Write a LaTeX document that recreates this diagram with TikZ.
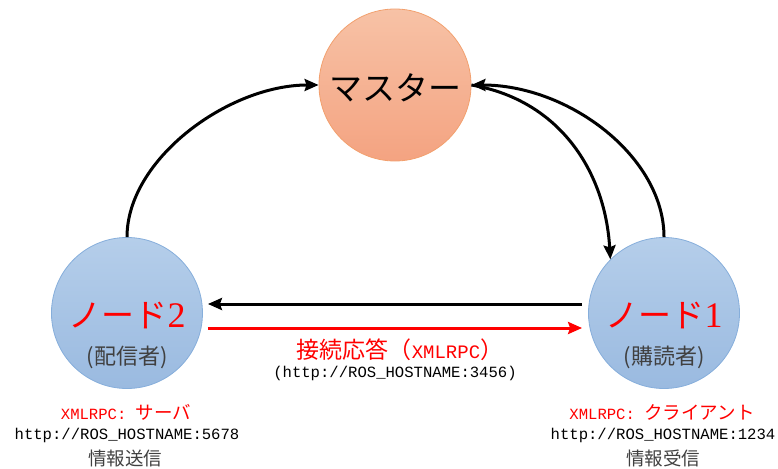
\documentclass[tikz,border=0pt]{standalone}
\usepackage{fontspec}
\setmainfont{Liberation Serif}
\newfontfamily\jpf{Noto Sans CJK JP}
\newfontfamily\monof{Liberation Mono}
\usetikzlibrary{arrows.meta,calc}
\definecolor{mtop}{HTML}{F7C2A6}
\definecolor{mbot}{HTML}{F4A381}
\definecolor{mdraw}{HTML}{F2A06E}
\definecolor{ntop}{HTML}{B5CEEA}
\definecolor{nbot}{HTML}{9ABAE0}
\definecolor{ndraw}{HTML}{86AEDB}
\definecolor{txtgray}{HTML}{404040}
\newcommand\jpsz[1]{\jpf\fontsize{#1}{#1}\selectfont}
\newcommand\mosz[1]{\monof\fontsize{#1}{#1}\selectfont}
\newcommand\rmsz[1]{\rmfamily\fontsize{#1}{#1}\selectfont}
\begin{document}
\begin{tikzpicture}[x=1pt,y=-1pt,
  master/.style={circle,minimum size=152pt,inner sep=0pt,draw=mdraw,line width=0.8pt,top color=mtop,bottom color=mbot},
  peer/.style={circle,minimum size=151pt,inner sep=0pt,draw=ndraw,line width=0.8pt,top color=ntop,bottom color=nbot},
  arr/.style={line width=3pt,-{Stealth[length=14pt,width=12pt,inset=2pt]}},
  redarr/.style={arr,red},
  txt/.style={inner sep=0pt,anchor=center},
  peername/.style={txt,red},
  peerrole/.style={txt,text=txtgray,font=\jpsz{22}},
  infored/.style={txt,red},
  infourl/.style={txt,font=\mosz{15.6}},
  infojp/.style={txt,text=txtgray,font=\jpsz{18.5}}
]
\useasboundingbox (0,0) rectangle (778,468);

\node[master] (m) at (395,85) {};
\node[peer] (n2) at (127,313) {};
\node[peer] (n1) at (664,313) {};

\node[txt,font=\jpsz{33}] (mt) at (395,88) {マスター};

\node[peername] (n2t) at ($(n2)+(0,3)$) {{\jpsz{33}ノード}{\rmsz{36}2}};
\node[peerrole] (n2r) at ($(n2)+(0,44)$) {(配信者)};
\node[peername] (n1t) at ($(n1)+(0,3)$) {{\jpsz{33}ノード}{\rmsz{36}1}};
\node[peerrole] (n1r) at ($(n1)+(0,44)$) {(購読者)};

% curved connectors
\draw[arr] (n2.north) .. controls +(0,-78) and +(-90,0) .. (m.west);
\draw[arr] (n1.north) .. controls +(0,-80) and +(98,0) .. (m.east);
\draw[arr] (m.east) .. controls +(88,15) and +(-5,-88) .. (n1.135);

% horizontal connectors
\coordinate (bs) at ($(n1.west)+(-6,-9)$);
\coordinate (be) at ($(n2.east)+(5,-9)$);
\draw[arr] (bs) -- (be);
\coordinate (rs) at ($(n2.east)+(5,15)$);
\coordinate (re) at ($(n1.west)+(-6,15)$);
\draw[redarr] (rs) -- (re);

\node[txt,red] (lbl) at (400,350) {{\jpsz{23}接続応答（}{\mosz{19}XMLRPC}{\jpsz{23}）}};
\node[infourl] (lblurl) at (395,373) {(http://ROS\_HOSTNAME:3456)};

% left info
\node[infored] (l1) at (126,412) {{\mosz{15.6}XMLRPC: }{\jpsz{18.5}サーバ}};
\node[infourl] (l2) at (127,435) {http://ROS\_HOSTNAME:5678};
\node[infojp] (l3) at (125,458) {情報送信};

% right info
\node[infored] (r1) at (662,412) {{\mosz{15.6}XMLRPC: }{\jpsz{18.5}クライアント}};
\node[infourl] (r2) at (663,435) {http://ROS\_HOSTNAME:1234};
\node[infojp] (r3) at (663,458) {情報受信};
\end{tikzpicture}
\end{document}
